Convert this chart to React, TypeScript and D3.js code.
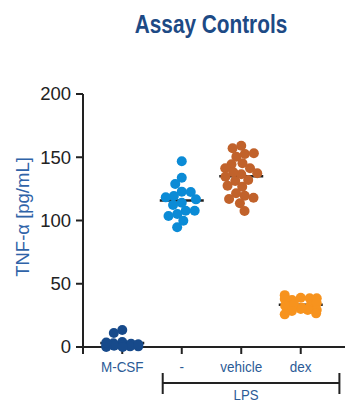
import React from 'react';
import * as d3 from 'd3';

// data
const categories = ['M-CSF', '-', 'vehicle', 'dex'];
const mcsfValues = [13.5, 11, 4, 3, 2.5, 2, 1.5, 1, 1, 0.5, 0.5, 0, 0, 3.5, 2];
const lpsValues = [146.8, 133.8, 128.9, 122.8, 119.4, 122.5, 116.7, 118.3, 114.1, 112.3, 107.7, 107.7, 105.1, 103.6, 99.8, 94.6];
const vehicleValues = [159.1, 157.1, 152.6, 153.1, 150.4, 145.2, 144.4, 141.3, 141.3, 136.5, 137.3, 138.1, 134.6, 132, 131.2, 127.5, 126.7, 121.5, 119.6, 118, 117, 113.6, 107.5];
const dexValues = [39, 37.2, 38.5, 41, 38.5, 37.9, 30, 33.2, 32.6, 33.8, 34.5, 29.2, 28.5, 29.2, 25.8, 26.6, 31];
const groupValues = [mcsfValues, lpsValues, vehicleValues, dexValues];
const groupColors = ['#174a8b', '#0b8bd6', '#c1622b', '#f7931e'];
const yTicks = [0, 50, 100, 150, 200];
const title = 'Assay Controls';
const yLabel = 'TNF-α [pg/mL]';
const bracketLabel = 'LPS';

const width = 346;
const height = 403;
const axisColor = '#222';
const labelBlue = '#2b5b96';
const dotRadius = 5;

const y = d3.scaleLinear().domain([0, 200]).range([347, 94]);
const x = d3.scalePoint<string>().domain(categories).range([83, 340]).padding(0.66);

// beeswarm with a capped half width: free slot closest to the centre,
// otherwise the slot with the least overlap
function swarm(values: number[], minDist: number, maxHalf: number) {
  const placed: { x: number; y: number }[] = [];
  values.forEach(v => {
    const py = y(v);
    const near = placed.filter(q => Math.abs(q.y - py) < minDist);
    const ends = near.flatMap(q => {
      const dx = Math.sqrt(minDist * minDist - (q.y - py) * (q.y - py));
      return [q.x - dx, q.x + dx];
    });
    const candidates = [0, -maxHalf, maxHalf, ...ends]
      .filter(c => Math.abs(c) <= maxHalf + 1e-6)
      .sort((a, b) => Math.abs(a) - Math.abs(b));
    const penalty = (c: number) =>
      d3.sum(near, q => Math.max(0, minDist - Math.hypot(q.x - c, q.y - py) - 1e-6));
    let best = candidates[0];
    let bestPen = Infinity;
    candidates.forEach(c => {
      const p = penalty(c);
      if (p < bestPen - 1e-9) { best = c; bestPen = p; }
    });
    placed.push({ x: best, y: py });
  });
  return placed;
}

export default function App() {
  const step = x.step();
  const bracketLeft = x('-')! - 0.32 * step;
  const bracketRight = x('dex')! + 0.65 * step;
  const bracketY = 383;

  return (
    <svg width={width} height={height} style={{ position: 'absolute', left: 0, top: 0, background: '#fff' }}
      fontFamily="'Liberation Sans', Arial, sans-serif">
      {/* title */}
      <g transform={`translate(211, 33) scale(0.8, 1)`}>
        <text textAnchor="middle" fontSize={26} fontWeight="bold" fill="#1d4a85">{title}</text>
      </g>

      {/* y axis */}
      <line x1={83} x2={83} y1={y(200)} y2={354} stroke={axisColor} strokeWidth={2} />
      {yTicks.map(t => (
        <g key={t} transform={`translate(0, ${y(t)})`}>
          <line x1={76} x2={83} stroke={axisColor} strokeWidth={2} />
          <text x={71} dy="0.35em" textAnchor="end" fontSize={18.5} fill={axisColor}>{t}</text>
        </g>
      ))}
      <text transform={`translate(29, 217) rotate(-90)`} textAnchor="middle" fontSize={18.5} fill="#2f63a8">{yLabel}</text>

      {/* x axis */}
      <line x1={76} x2={345} y1={y(0)} y2={y(0)} stroke={axisColor} strokeWidth={2} />
      {categories.map(c => (
        <g key={c} transform={`translate(${x(c)}, 0)`}>
          <line y1={y(0)} y2={y(0) + 7} stroke={axisColor} strokeWidth={2} />
          <g transform={`translate(0, 372) scale(0.9, 1)`}>
            <text textAnchor="middle" fontSize={15} fill={labelBlue}>{c}</text>
          </g>
        </g>
      ))}

      {/* LPS bracket */}
      <path d={`M${bracketLeft},${bracketY - 10}V${bracketY + 11}M${bracketLeft},${bracketY}H${bracketRight}M${bracketRight},${bracketY - 10}V${bracketY + 11}`}
        fill="none" stroke={axisColor} strokeWidth={2} />
      <g transform={`translate(${(bracketLeft + bracketRight) / 2 - 5}, 400) scale(0.88, 1)`}>
        <text textAnchor="middle" fontSize={15} fill={labelBlue}>{bracketLabel}</text>
      </g>

      {/* groups */}
      {groupValues.map((vals, gi) => {
        const cx = x(categories[gi])!;
        const mean = d3.mean(vals)!;
        const dots = swarm(vals, 9, 16);
        return (
          <g key={gi}>
            <line x1={cx - 22} x2={cx + 22} y1={y(mean)} y2={y(mean)} stroke={axisColor} strokeWidth={2.5} />
            {dots.map((d, i) => (
              <circle key={i} cx={cx + d.x} cy={d.y} r={dotRadius} fill={groupColors[gi]} />
            ))}
          </g>
        );
      })}
    </svg>
  );
}
